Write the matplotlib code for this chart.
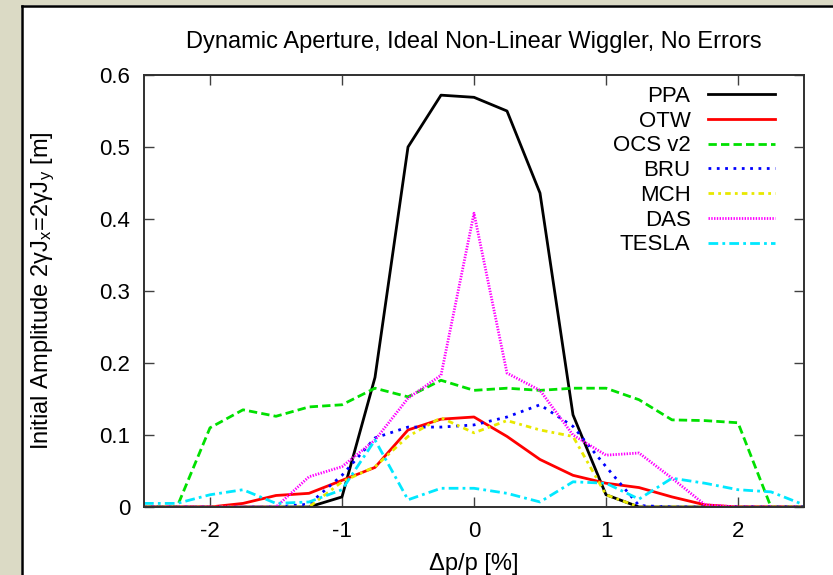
import numpy as np
import matplotlib
matplotlib.use('Agg')
import matplotlib.pyplot as plt
from matplotlib.patches import Rectangle
from matplotlib.lines import Line2D

plt.rcParams['font.family'] = ['Liberation Sans', 'DejaVu Sans']
plt.rcParams['mathtext.fontset'] = 'custom'
plt.rcParams['mathtext.rm'] = 'Liberation Sans'
plt.rcParams['mathtext.it'] = 'Liberation Sans:italic'
plt.rcParams['axes.unicode_minus'] = False

# momentum deviation grid [%]
dp = [-2.5, -2.25, -2.0, -1.75, -1.5, -1.25, -1.0, -0.75, -0.5, -0.25, 0.0,
      0.25, 0.5, 0.75, 1.0, 1.25, 1.5, 1.75, 2.0, 2.25, 2.5]

ppa = [0, 0, 0, 0, 0, 0, 0.014, 0.18, 0.50, 0.572, 0.569,
       0.55, 0.436, 0.128, 0.017, 0, 0, 0, 0, 0, 0]
otw = [0, 0, 0, 0.005, 0.016, 0.019, 0.037, 0.055, 0.107, 0.122, 0.125,
       0.098, 0.066, 0.044, 0.033, 0.027, 0.014, 0.003, 0, 0, 0]
ocs = [0, 0, 0.110, 0.135, 0.126, 0.139, 0.142, 0.165, 0.153, 0.176, 0.162,
       0.165, 0.162, 0.165, 0.165, 0.149, 0.121, 0.120, 0.117, 0, 0]
bru = [0, 0, 0, 0, 0, 0.004, 0.044, 0.096, 0.111, 0.111, 0.114,
       0.125, 0.142, 0.112, 0.056, 0.002, 0, 0, 0, 0, 0]
mch = [0, 0, 0, 0, 0, 0, 0.035, 0.056, 0.098, 0.124, 0.103,
       0.120, 0.107, 0.098, 0.017, 0, 0, 0, 0, 0, 0]
das = [0, 0, 0, 0, 0, 0.042, 0.056, 0.093, 0.151, 0.183, 0.408,
       0.186, 0.162, 0.100, 0.072, 0.075, 0.040, 0.003, 0, 0, 0]
tesla = [0.005, 0.005, 0.017, 0.024, 0.005, 0.007, 0.024, 0.093, 0.010, 0.026, 0.026,
         0.019, 0.007, 0.035, 0.033, 0.011, 0.040, 0.033, 0.024, 0.021, 0.003]

fig = plt.figure(figsize=(8.33, 5.75), dpi=100)
fig.patch.set_facecolor('white')

# beige frame on the left and top, with a dark edge
fig.patches.append(Rectangle((0, 0), 21 / 833, 1, transform=fig.transFigure,
                             facecolor='#dbdac5', edgecolor='none', zorder=0))
fig.patches.append(Rectangle((0, 1 - 5 / 575), 1, 5 / 575, transform=fig.transFigure,
                             facecolor='#dbdac5', edgecolor='none', zorder=0))
fig.lines.append(Line2D([22 / 833, 22 / 833], [0, 1 - 6 / 575], transform=fig.transFigure,
                        color='black', lw=1.8))
fig.lines.append(Line2D([22 / 833, 1], [1 - 6 / 575, 1 - 6 / 575], transform=fig.transFigure,
                        color='black', lw=1.8))

ax = fig.add_axes([144 / 833, 68 / 575, 660 / 833, 432 / 575])

ax.plot(dp, ppa, color='black', lw=2.0, label='PPA')
ax.plot(dp, otw, color='#ff0000', lw=2.0, label='OTW')
ax.plot(dp, ocs, color='#00e000', lw=2.0, dashes=(3, 1.5), label='OCS v2')
ax.plot(dp, bru, color='#0000ff', lw=2.0, dashes=(1, 2), label='BRU')
ax.plot(dp, mch, color='#e8e800', lw=2.0, dashes=(2, 1.5, 1, 1.5), label='MCH')
ax.plot(dp, das, color='#ff00ff', lw=2.0, dashes=(0.5, 0.5), label='DAS')
ax.plot(dp, tesla, color='#00e8ff', lw=2.0, dashes=(3.5, 1.5, 1, 1.5), label='TESLA')

ax.set_xlim(-2.5, 2.5)
ax.set_ylim(0, 0.6)
ax.set_xticks([-2, -1, 0, 1, 2])
ax.set_yticks([0, 0.1, 0.2, 0.3, 0.4, 0.5, 0.6])
ax.set_yticklabels(['0', '0.1', '0.2', '0.3', '0.4', '0.5', '0.6'])
ax.tick_params(direction='in', length=7, width=1, top=True, right=True,
               labelsize=16, pad=10, colors='#404040', labelcolor='black')
for s in ax.spines.values():
    s.set_linewidth(1.4)
    s.set_color('#303030')

ax.set_xlabel('Δp/p [%]', fontsize=17, labelpad=8)
ax.set_ylabel('Initial Amplitude 2γJ$_\\mathrm{x}$=2γJ$_\\mathrm{y}$ [m]', fontsize=17, labelpad=30)
fig.text(474 / 833, 1 - 42 / 575, 'Dynamic Aperture, Ideal Non-Linear Wiggler, No Errors',
         ha='center', va='center', fontsize=17)

ax.legend(loc='upper right', bbox_to_anchor=(0.956, 0.975), frameon=False,
          markerfirst=False, fontsize=16, handlelength=3.0, handletextpad=0.8,
          labelspacing=0.17, borderpad=0, borderaxespad=0)

fig.savefig('out.png', dpi=100)
